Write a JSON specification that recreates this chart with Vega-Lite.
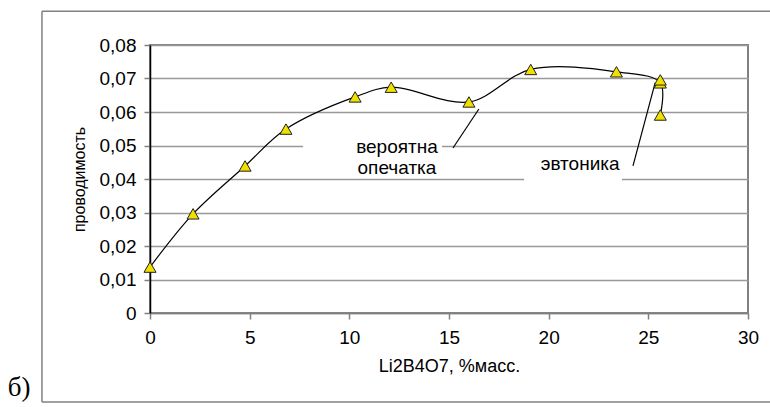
{
  "$schema": "https://vega.github.io/schema/vega-lite/v6.json",
  "width": 598,
  "height": 268,
  "autosize": {"type": "none"},
  "padding": {"left": 150, "top": 45, "right": 22, "bottom": 94},
  "background": "white",
  "config": {
    "view": {"stroke": "#808080", "strokeWidth": 2},
    "font": "Liberation Sans"
  },
  "datasets": {
    "curve": [
      {"i": 1, "x": 0, "y": 0.0137},
      {"i": 2, "x": 2.16, "y": 0.0296},
      {"i": 3, "x": 4.77, "y": 0.0439},
      {"i": 4, "x": 6.82, "y": 0.0549},
      {"i": 5, "x": 10.29, "y": 0.0645},
      {"i": 6, "x": 12.1, "y": 0.0674},
      {"i": 7, "x": 16.0, "y": 0.0630},
      {"i": 8, "x": 19.1, "y": 0.0727},
      {"i": 9, "x": 23.4, "y": 0.0720},
      {"i": 10, "x": 25.6, "y": 0.0687},
      {"i": 11, "x": 25.6, "y": 0.0591}
    ],
    "points": [
      {"x": 0, "y": 0.0137},
      {"x": 2.16, "y": 0.0296},
      {"x": 4.77, "y": 0.0439},
      {"x": 6.82, "y": 0.0549},
      {"x": 10.29, "y": 0.0645},
      {"x": 12.1, "y": 0.0674},
      {"x": 16.0, "y": 0.0630},
      {"x": 19.1, "y": 0.0727},
      {"x": 23.4, "y": 0.0720},
      {"x": 25.6, "y": 0.0687},
      {"x": 25.6, "y": 0.0696},
      {"x": 25.6, "y": 0.0591}
    ],
    "boxes": [
      {"x": 7.68, "x2": 14.65, "y": 0.0516, "y2": 0.0412},
      {"x": 18.77, "x2": 23.68, "y": 0.0472, "y2": 0.0382}
    ],
    "notes": [
      {"x": 12.39, "y": 0.04955, "label": "вероятна"},
      {"x": 12.39, "y": 0.04328, "label": "опечатка"},
      {"x": 21.58, "y": 0.04448, "label": "эвтоника"}
    ],
    "leaders": [
      {"x": 15.2, "y": 0.04925, "x2": 16.5, "y2": 0.0609},
      {"x": 24.23, "y": 0.0439, "x2": 25.34, "y2": 0.0687}
    ],
    "frame": [
      {"x": -5.42, "y": 0.0901, "x2": -5.42, "y2": -0.0266},
      {"x": -5.42, "y": 0.0901, "x2": 31.2, "y2": 0.0901},
      {"x": -5.42, "y": -0.0266, "x2": 31.2, "y2": -0.0266}
    ],
    "tag": [
      {"x": -6.57, "y": -0.0224, "label": "б)"}
    ]
  },
  "encoding": {
    "x": {"field": "x", "type": "quantitative", "scale": {"domain": [0, 30], "nice": false, "zero": false},
      "axis": {"values": [0, 5, 10, 15, 20, 25, 30], "tickCount": 20, "title": "Li2B4O7, %масс.", "grid": false,
        "labelFlush": false, "labelOverlap": false, "labelBound": false,
        "domainColor": "#808080", "domainWidth": 1.5, "tickColor": "#808080", "tickSize": 6, "tickWidth": 1.5,
        "labelFont": "Liberation Sans", "labelFontSize": 19, "labelColor": "black", "labelPadding": 9,
        "titleFont": "Liberation Sans", "titleFontSize": 18, "titleFontWeight": "normal", "titleColor": "black", "titlePadding": 10}},
    "y": {"field": "y", "type": "quantitative", "scale": {"domain": [0, 0.08], "nice": false, "zero": false},
      "axis": {"values": [0, 0.01, 0.02, 0.03, 0.04, 0.05, 0.06, 0.07, 0.08], "tickCount": 20,
        "labelFlush": false, "labelOverlap": false, "labelBound": false,
        "labelExpr": "datum.value == 0 ? '0' : replace(format(datum.value, '.2f'), '.', ',')",
        "title": "проводимость", "grid": true, "gridColor": "#999999", "gridWidth": 1.5,
        "domainColor": "black", "domainWidth": 1.5, "tickColor": "#808080", "tickSize": 6, "tickWidth": 1.5,
        "labelFont": "Liberation Sans", "labelFontSize": 19, "labelColor": "black", "labelPadding": 8,
        "titleFont": "Liberation Sans", "titleFontSize": 16, "titleFontWeight": "normal", "titleColor": "black", "titlePadding": 12}}
  },
  "layer": [
    {
      "data": {"name": "frame"},
      "mark": {"type": "rule", "color": "#808080", "strokeWidth": 1.5},
      "encoding": {
        "x2": {"field": "x2"},
        "y2": {"field": "y2"}
      }
    },
    {
      "data": {"name": "boxes"},
      "mark": {"type": "rect", "fill": "white", "stroke": null},
      "encoding": {
        "x2": {"field": "x2"},
        "y2": {"field": "y2"}
      }
    },
    {
      "data": {"name": "leaders"},
      "mark": {"type": "rule", "color": "black", "strokeWidth": 1.2},
      "encoding": {
        "x2": {"field": "x2"},
        "y2": {"field": "y2"}
      }
    },
    {
      "data": {"name": "curve"},
      "mark": {"type": "line", "color": "black", "strokeWidth": 1.2, "interpolate": "catmull-rom"},
      "encoding": {
        "order": {"field": "i", "type": "quantitative"}
      }
    },
    {
      "data": {"name": "points"},
      "mark": {"type": "point", "shape": "triangle-up", "filled": true, "fill": "#f0e000", "stroke": "#222222", "strokeWidth": 1, "size": 145, "opacity": 1},
      "encoding": {}
    },
    {
      "data": {"name": "notes"},
      "mark": {"type": "text", "font": "Liberation Sans", "fontSize": 19, "color": "black", "align": "center", "baseline": "middle"},
      "encoding": {
        "text": {"field": "label"}
      }
    },
    {
      "data": {"name": "tag"},
      "mark": {"type": "text", "font": "Liberation Serif", "fontSize": 27, "color": "black", "align": "center", "baseline": "middle"},
      "encoding": {
        "text": {"field": "label"}
      }
    }
  ]
}
